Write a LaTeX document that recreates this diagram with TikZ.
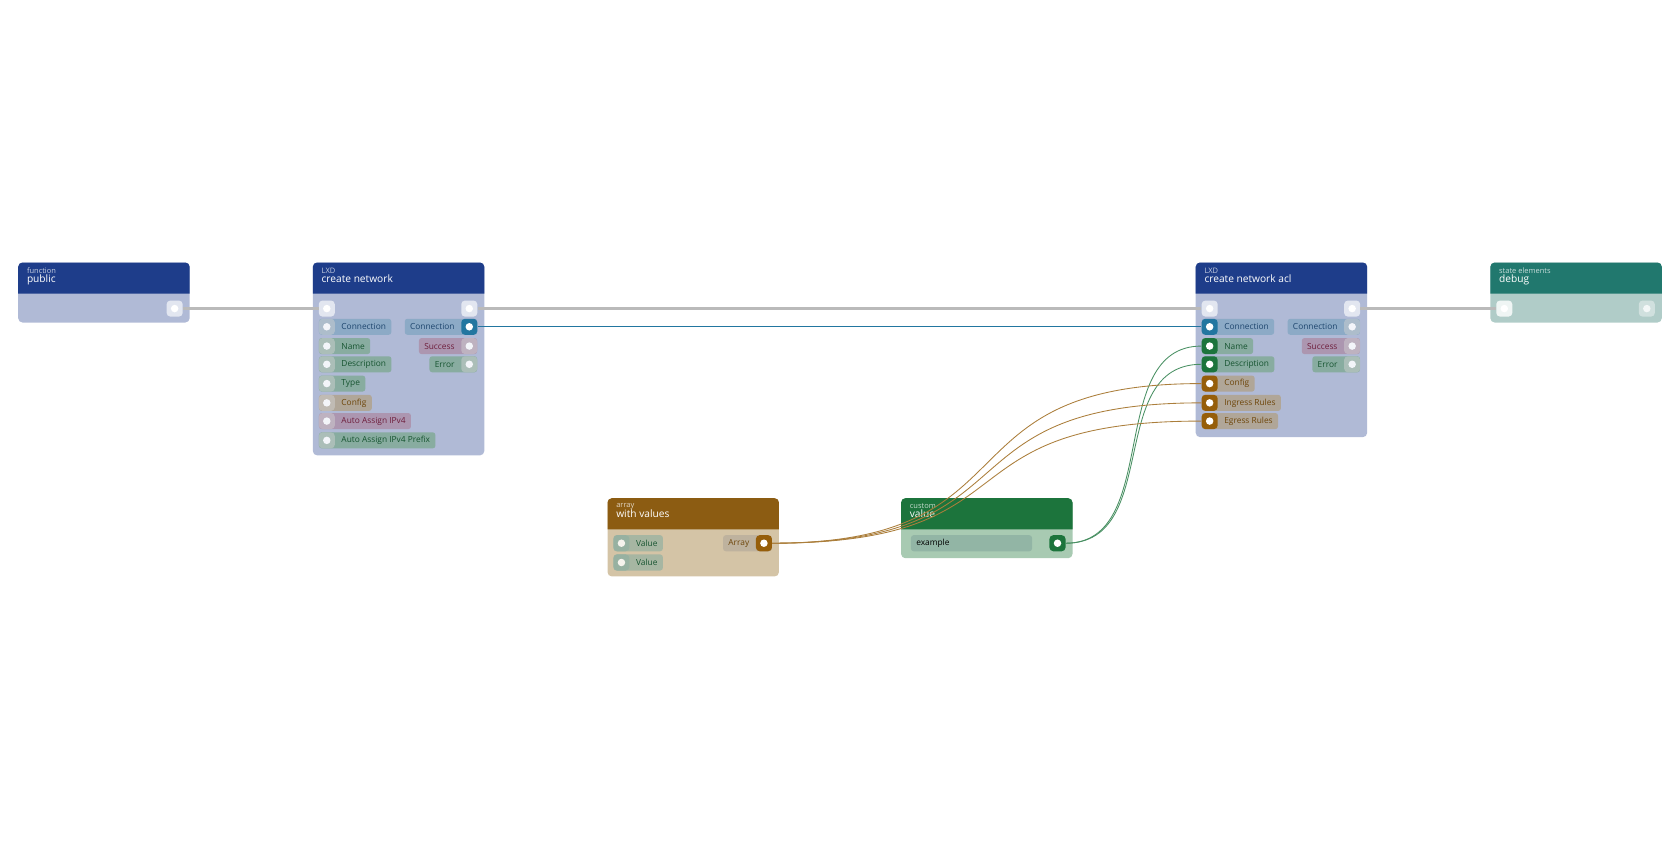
\documentclass[tikz,border=0pt]{standalone}
\usepackage{fontspec}
\setmainfont{Open Sans}
\usetikzlibrary{positioning}

\definecolor{headblue}{RGB}{30,61,138}
\definecolor{bodyblue}{RGB}{176,186,214}
\definecolor{headteal}{RGB}{33,120,110}
\definecolor{bodyteal}{RGB}{176,204,200}
\definecolor{headbrown}{RGB}{140,92,18}
\definecolor{bodybrown}{RGB}{212,196,166}
\definecolor{headgreen}{RGB}{28,116,60}
\definecolor{bodygreen}{RGB}{168,202,178}
\definecolor{connchip}{RGB}{140,170,198}
\definecolor{conntext}{RGB}{30,70,110}
\definecolor{connport}{RGB}{34,118,160}
\definecolor{strchip}{RGB}{136,172,160}
\definecolor{strtext}{RGB}{22,84,48}
\definecolor{strport}{RGB}{28,116,60}
\definecolor{boolchip}{RGB}{172,150,176}
\definecolor{booltext}{RGB}{110,30,60}
\definecolor{objchip}{RGB}{176,166,152}
\definecolor{objtext}{RGB}{110,70,10}
\definecolor{objport}{RGB}{150,94,10}
\definecolor{wiregray}{RGB}{186,186,186}
\definecolor{execport}{RGB}{226,230,240}

\tikzset{
  chip/.style={rounded corners=2.5pt, minimum height=15pt, inner xsep=5pt, inner ysep=0pt,
    font=\fontsize{7.8}{8}\selectfont},
  ch conn/.style={fill=connchip, text=conntext},
  ch str/.style={fill=strchip, text=strtext},
  ch bool/.style={fill=boolchip, text=booltext},
  ch obj/.style={fill=objchip, text=objtext},
  port/.style={rounded corners=3.5pt, minimum size=15pt, inner sep=0pt},
  dot/.style={circle, minimum size=7pt, inner sep=0pt},
  wire/.style={line width=0.8pt},
  wire exec/.style={wiregray, line width=2.5pt},
}

% block: x, top, bottom, head colour, body colour, kind, title, name
\newcommand\block[8]{%
  \fill[#5, rounded corners=4pt] (#1,#2) rectangle (#1+160,#3);
  \fill[#4] (#1,#2+29) {[rounded corners=4pt] -- (#1,#2) -- (#1+160,#2)} -- (#1+160,#2+29) -- cycle;
  \node[anchor=north west, inner sep=0pt, text=white!75!#4, font=\fontsize{7}{7}\selectfont] at (#1+8,#2+5) {#6};
  \node[anchor=north west, inner sep=0pt, text=white, font=\fontsize{9.5}{10}\selectfont] (#8) at (#1+8,#2+11) {#7};
}
% ports: name, position, fill, dot colour
\newcommand\port[4]{%
  \node[port, fill=#3] (#1) at #2 {};
  \node[dot, fill=#4] at (#1) {};
}
\newcommand\inchip[3]{\node[chip, ch #2, anchor=west, xshift=-7.5pt] at #1 {\kern16pt#3};}
\newcommand\outchip[3]{\node[chip, ch #2, anchor=east, xshift=7.5pt] at #1 {#3\kern16pt};}

\begin{document}
\begin{tikzpicture}[x=1pt, y=-1pt]
  \useasboundingbox (0,0) rectangle (1568,784);
  %%%%%%%%%%%%%%%%%%%%%%%%%%%%%%%%%%%%%%%%%%%%%%%
  \block{17}{245}{301}{headblue}{bodyblue}{function}{public}{pub}
  \port{pubout}{(163,288)}{execport}{white}
  %%%%%%%%%%%%%%%%%%%%%%%%%%%%%%%%%%%%%%%%%%%%%%%
  \block{292}{245}{425}{headblue}{bodyblue}{LXD}{create network}{cn}
  \port{cnin}{(305,288)}{execport}{white}
  \port{cnout}{(438,288)}{execport}{white}
  \inchip{(305,305)}{conn}{Connection}
  \inchip{(305,323)}{str}{Name}
  \inchip{(305,340)}{str}{Description}
  \inchip{(305,358)}{str}{Type}
  \inchip{(305,376)}{obj}{Config}
  \inchip{(305,393)}{bool}{Auto Assign IPv4}
  \inchip{(305,411)}{str}{Auto Assign IPv4 Prefix}
  \outchip{(438,305)}{conn}{Connection}
  \outchip{(438,323)}{bool}{Success}
  \outchip{(438,340)}{str}{Error}
  \foreach \y/\c in {305/connchip,323/strchip,340/strchip,358/strchip,376/objchip,393/boolchip,411/strchip}
    {\port{cnp\y}{(305,\y)}{\c!85!black!60!white}{white!85!bodyblue}}
  \port{cnconn}{(438,305)}{connport}{white}
  \port{cnok}{(438,323)}{boolchip!85!black!60!white}{white!85!bodyblue}
  \port{cnerr}{(438,340)}{strchip!85!black!60!white}{white!85!bodyblue}
  %%%%%%%%%%%%%%%%%%%%%%%%%%%%%%%%%%%%%%%%%%%%%%%
  \block{1116}{245}{408}{headblue}{bodyblue}{LXD}{create network acl}{acl}
  \inchip{(1129,305)}{conn}{Connection}
  \inchip{(1129,323)}{str}{Name}
  \inchip{(1129,340)}{str}{Description}
  \inchip{(1129,358)}{obj}{Config}
  \inchip{(1129,376)}{obj}{Ingress Rules}
  \inchip{(1129,393)}{obj}{Egress Rules}
  \outchip{(1262,305)}{conn}{Connection}
  \outchip{(1262,323)}{bool}{Success}
  \outchip{(1262,340)}{str}{Error}
  \port{aclin}{(1129,288)}{execport}{white}
  \port{aclout}{(1262,288)}{execport}{white}
  \port{aclconn}{(1129,305)}{connport}{white}
  \port{aclname}{(1129,323)}{strport}{white}
  \port{acldesc}{(1129,340)}{strport}{white}
  \port{aclconf}{(1129,358)}{objport}{white}
  \port{aclingr}{(1129,376)}{objport}{white}
  \port{acleg}{(1129,393)}{objport}{white}
  \port{aclconnout}{(1262,305)}{connchip!85!black!60!white}{white!85!bodyblue}
  \port{aclok}{(1262,323)}{boolchip!85!black!60!white}{white!85!bodyblue}
  \port{aclerr}{(1262,340)}{strchip!85!black!60!white}{white!85!bodyblue}
  %%%%%%%%%%%%%%%%%%%%%%%%%%%%%%%%%%%%%%%%%%%%%%%
  \block{1391}{245}{301}{headteal}{bodyteal}{state elements}{debug}{dbg}
  \port{dbgin}{(1404,288)}{white!80!bodyteal}{white}
  \port{dbgout}{(1537,288)}{white!40!bodyteal}{white!85!bodyteal}
  %%%%%%%%%%%%%%%%%%%%%%%%%%%%%%%%%%%%%%%%%%%%%%%
  \block{567}{465}{538}{headbrown}{bodybrown}{array}{with values}{arr}
  \node[chip, fill=strchip!60!bodybrown, text=strtext, anchor=west, xshift=-7.5pt] at (580,507) {\kern16pt Value};
  \node[chip, fill=strchip!60!bodybrown, text=strtext, anchor=west, xshift=-7.5pt] at (580,525) {\kern16pt Value};
  \port{arrv1}{(580,507)}{strchip!80!bodybrown}{white!80!bodybrown}
  \port{arrv2}{(580,525)}{strchip!80!bodybrown}{white!80!bodybrown}
  \node[chip, fill=objchip!60!bodybrown, text=objtext, anchor=east, xshift=7.5pt] at (713,507) {Array\kern16pt};
  \port{arrout}{(713,507)}{objport}{white}
  %%%%%%%%%%%%%%%%%%%%%%%%%%%%%%%%%%%%%%%%%%%%%%%
  \block{841}{465}{521}{headgreen}{bodygreen}{custom}{value}{val}
  \node[chip, fill=strchip!70!bodygreen, text=black, anchor=west, minimum width=113pt, text width=103pt] at (850,507) {example};
  \port{valout}{(987,507)}{strport}{white}
  %%%%%%%%%%%%%%%%%%%%%%%%%%%%%%%%%%%%%%%%%%%%%%%
  \draw[wire exec] (pubout.east) -- (cnin.west);
  \draw[wire exec] (cnout.east) -- (aclin.west);
  \draw[wire exec] (aclout.east) -- (dbgin.west);
  \draw[wire, connport] (cnconn.east) -- (aclconn.west);
  \draw[wire, strport!80!white] (valout.east) .. controls +(90,0) and +(-90,0) .. (aclname.west);
  \draw[wire, strport!80!white] (valout.east) .. controls +(90,0) and +(-90,0) .. (acldesc.west);
  \draw[wire, objport!80!white] (arrout.east) .. controls +(250,0) and +(-250,0) .. (aclconf.west);
  \draw[wire, objport!80!white] (arrout.east) .. controls +(250,0) and +(-250,0) .. (aclingr.west);
  \draw[wire, objport!80!white] (arrout.east) .. controls +(250,0) and +(-250,0) .. (acleg.west);
\end{tikzpicture}
\end{document}
